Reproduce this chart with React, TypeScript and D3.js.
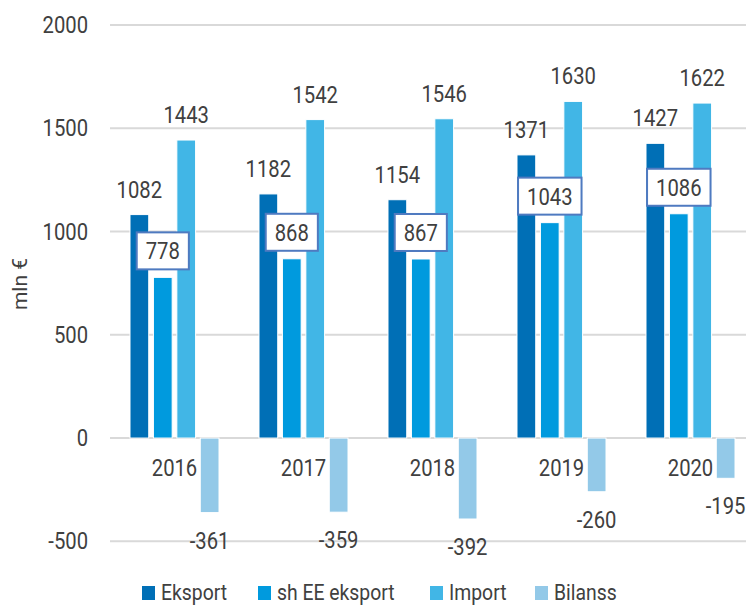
import React, { useEffect, useRef } from "react";
import * as d3 from "d3";

const years = ["2016", "2017", "2018", "2019", "2020"];
const eksport = [1082, 1182, 1154, 1371, 1427];
const shEEEksport = [778, 868, 867, 1043, 1086];
const importVals = [1443, 1542, 1546, 1630, 1622];
const bilanss = [-361, -359, -392, -260, -195];
const seriesNames = ["Eksport", "sh EE eksport", "Import", "Bilanss"];
const colors = ["#006fb6", "#009ade", "#41b6e6", "#93c9e8"];
const yTicks = [-500, 0, 500, 1000, 1500, 2000];

export default function App() {
  const ref = useRef<SVGSVGElement>(null);

  useEffect(() => {
    const svg = d3.select(ref.current);
    svg.selectAll("*").remove();
    const width = 746, height = 606;
    const sx = 0.88;
    const textColor = "#404040";

    // narrow text helper (mimics condensed font)
    const txt = (g: any, x: number, y: number, s: string, size: number, anchor = "middle") =>
      g.append("text")
        .attr("transform", "translate(" + x + "," + y + ") scale(" + sx + ",1)")
        .attr("text-anchor", anchor)
        .attr("font-family", "Roboto, sans-serif")
        .attr("font-size", size)
        .attr("fill", textColor)
        .text(s);

    const y = d3.scaleLinear().domain([-500, 2000]).range([541.3, 25]);
    const x = d3.scaleBand().domain(years).range([110, 755]).paddingInner(0.31).paddingOuter(0.155);
    const xs = d3.scaleBand().domain(seriesNames).range([0, x.bandwidth()]).paddingInner(0.2);

    const g = svg.append("g");

    // gridlines
    g.selectAll("line.grid")
      .data(yTicks)
      .enter()
      .append("line")
      .attr("x1", 110)
      .attr("x2", width)
      .attr("y1", (d) => y(d))
      .attr("y2", (d) => y(d))
      .attr("stroke", "#d9d9d9")
      .attr("stroke-width", 2);

    yTicks.forEach((t) => txt(g, 88, y(t) + 8, String(t), 23, "end"));

    // axis title
    g.append("text")
      .attr("transform", "translate(27,284) rotate(-90)")
      .attr("text-anchor", "middle")
      .attr("font-family", "Roboto, sans-serif")
      .attr("font-size", 21)
      .attr("fill", textColor)
      .text("mln €");

    const all = [eksport, shEEEksport, importVals, bilanss];

    // bars
    all.forEach((vals, si) => {
      g.selectAll("rect.s" + si)
        .data(vals)
        .enter()
        .append("rect")
        .attr("x", (d, i) => (x(years[i]) as number) + (xs(seriesNames[si]) as number))
        .attr("width", xs.bandwidth())
        .attr("y", (d) => y(Math.max(0, d)))
        .attr("height", (d) => Math.abs(y(d) - y(0)))
        .attr("fill", colors[si])
        .attr("stroke", "#ffffff")
        .attr("stroke-width", 1);
    });

    // category labels
    years.forEach((yr) => txt(g, (x(yr) as number) + x.bandwidth() / 2, 476, yr, 23));

    // labels for Eksport, Import
    [0, 2].forEach((si) => {
      all[si].forEach((v, i) => {
        const cx = (x(years[i]) as number) + (xs(seriesNames[si]) as number) + xs.bandwidth() / 2;
        txt(g, cx, y(v) - 17, String(v), 23);
      });
    });

    // Bilanss labels below
    bilanss.forEach((v, i) => {
      const cx = (x(years[i]) as number) + (xs(seriesNames[3]) as number) + xs.bandwidth() / 2;
      txt(g, cx, y(v) + 36, String(v), 23);
    });

    // boxed sh EE labels
    shEEEksport.forEach((v, i) => {
      const cx = (x(years[i]) as number) + (xs(seriesNames[1]) as number) + xs.bandwidth() / 2;
      const bottom = y(v) - 8;
      const bg = g.append("g");
      const rect = bg.append("rect");
      const t = txt(bg, cx, bottom - 10, String(v), 23);
      const w = (t.node() as SVGTextElement).getComputedTextLength() * sx + 18;
      rect
        .attr("x", cx - w / 2)
        .attr("y", bottom - 37)
        .attr("width", w)
        .attr("height", 37)
        .attr("fill", "#ffffff")
        .attr("stroke", "#4f7ac0")
        .attr("stroke-width", 2);
    });

    // legend
    const legend = svg.append("g");
    const legendX = [142, 258, 430, 535];
    seriesNames.forEach((name, i) => {
      legend.append("rect")
        .attr("x", legendX[i])
        .attr("y", 586)
        .attr("width", 13)
        .attr("height", 14)
        .attr("fill", colors[i]);
      txt(legend, legendX[i] + 19, 600, name, 22, "start");
    });
  }, []);

  return (
    <svg ref={ref} width={746} height={606} style={{ position: "absolute", left: 0, top: 0 }} />
  );
}
